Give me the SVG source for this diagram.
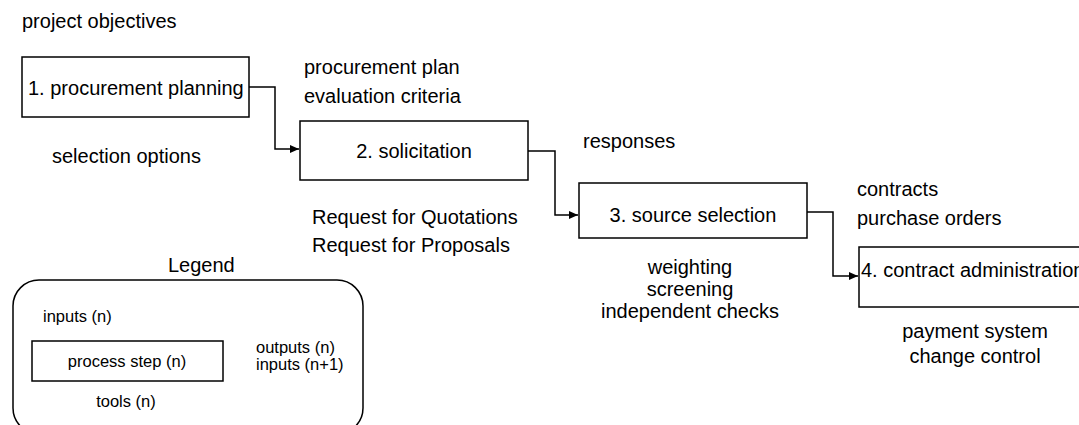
<svg xmlns="http://www.w3.org/2000/svg" width="1079" height="425" viewBox="0 0 1079 425">
<defs>
<style>
.t{font-family:"Liberation Sans",Arial,sans-serif;font-size:20px;fill:#000}
.s{font-family:"Liberation Sans",Arial,sans-serif;font-size:16.5px;fill:#000}
.box{fill:#fff;stroke:#000;stroke-width:1.5}
.con{fill:none;stroke:#000;stroke-width:1.5}
</style>
<marker id="ah" markerWidth="10" markerHeight="10" refX="9" refY="5" orient="auto" markerUnits="userSpaceOnUse">
<path d="M0,1 L9,5 L0,9 Z" fill="#000"/>
</marker>
</defs>
<rect width="1079" height="425" fill="#fff"/>
<g id="connectors">
<polyline class="con" points="249,87 275,87 275,149 299,149" marker-end="url(#ah)"/>
<polyline class="con" points="528,151 555,151 555,215 578,215" marker-end="url(#ah)"/>
<polyline class="con" points="807,212 833,212 833,276 858,276" marker-end="url(#ah)"/>
</g>
<g id="n1">
<rect class="box" x="22" y="57" width="227" height="60"/>
<text class="t" x="28" y="95">1. procurement planning</text>
</g>
<g id="n2">
<rect class="box" x="300" y="121" width="228" height="59"/>
<text class="t" x="414" y="158" text-anchor="middle">2. solicitation</text>
</g>
<g id="n3">
<rect class="box" x="579" y="183" width="228" height="55"/>
<text class="t" x="693" y="222" text-anchor="middle">3. source selection</text>
</g>
<g id="n4">
<rect class="box" x="859" y="247" width="240" height="60"/>
<text class="t" x="861" y="277">4. contract administration</text>
</g>
<g id="labels">
<text class="t" x="22" y="28">project objectives</text>
<text class="t" x="304" y="74">procurement plan</text>
<text class="t" x="304" y="103">evaluation criteria</text>
<text class="t" x="52" y="163">selection options</text>
<text class="t" x="583" y="148">responses</text>
<text class="t" x="312" y="224">Request for Quotations</text>
<text class="t" x="312" y="252">Request for Proposals</text>
<text class="t" x="690" y="274" text-anchor="middle">weighting</text>
<text class="t" x="690" y="296" text-anchor="middle">screening</text>
<text class="t" x="690" y="318" text-anchor="middle">independent checks</text>
<text class="t" x="857" y="196">contracts</text>
<text class="t" x="857" y="225">purchase orders</text>
<text class="t" x="975" y="338" text-anchor="middle">payment system</text>
<text class="t" x="975" y="363" text-anchor="middle">change control</text>
</g>
<g id="legend">
<text class="t" x="168" y="272">Legend</text>
<rect class="box" x="13" y="280" width="350" height="154" rx="26" ry="26"/>
<text class="s" x="43" y="322">inputs (n)</text>
<rect class="box" x="32" y="341" width="191" height="40"/>
<text class="s" x="127" y="367" text-anchor="middle">process step (n)</text>
<text class="s" x="256" y="353">outputs (n)</text>
<text class="s" x="256" y="370">inputs (n+1)</text>
<text class="s" x="126" y="407" text-anchor="middle">tools (n)</text>
</g>
</svg>
